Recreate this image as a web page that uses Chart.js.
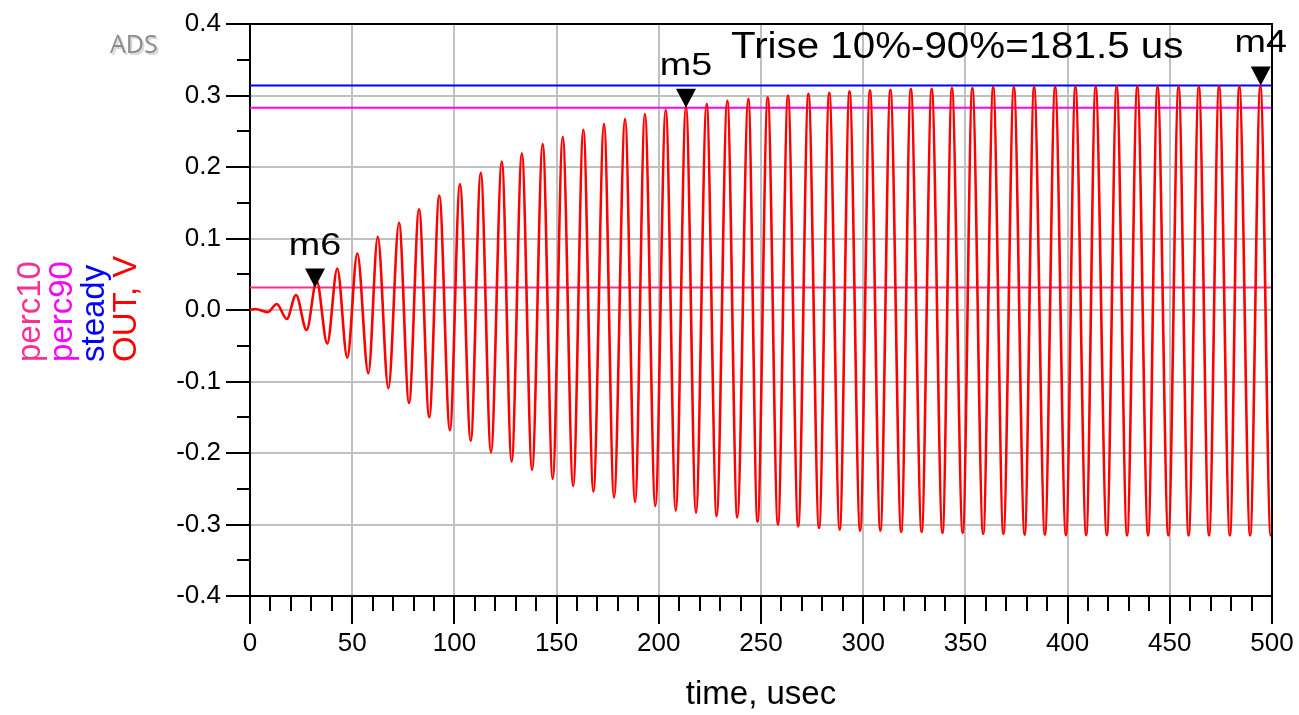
<!DOCTYPE html>
<html>
<head>
<meta charset="utf-8">
<script src="https://cdn.jsdelivr.net/npm/chart.js@4.4.1/dist/chart.umd.min.js"></script>
<style>
    html, body { margin: 0; padding: 0; background: #fff; }
</style>
</head>
<body>
<canvas id="chart" width="1299" height="715"></canvas>
<script>
const peakTimes = [2.4, 13.1, 22.5, 32.6, 42.7, 52.5, 62.5, 72.9, 82.7, 92.6,
    102.7, 112.9, 123.2, 133.0, 143.2, 153.0, 163.1, 173.2, 183.5, 193.2,
    203.4, 213.3, 223.4, 233.5, 243.8, 253.3, 263.2, 273.2, 283.4, 293.3,
    303.3, 313.3, 323.3, 333.5, 343.4, 353.4, 363.6, 373.7, 383.6, 393.9,
    403.8, 413.7, 424.0, 434.1, 444.0, 454.3, 464.2, 474.1, 484.0, 494.3];
const peakValues = [0.0014, 0.0084, 0.021, 0.041, 0.058, 0.079, 0.1025, 0.122, 0.141, 0.160,
    0.176, 0.192, 0.2075, 0.219, 0.232, 0.242, 0.252, 0.260, 0.267, 0.274,
    0.280, 0.285, 0.288, 0.2927, 0.2955, 0.2976, 0.300, 0.3024, 0.3038, 0.3057,
    0.3071, 0.3081, 0.3095, 0.3095, 0.3104, 0.3104, 0.3118, 0.3118, 0.312, 0.312,
    0.3122, 0.3122, 0.3124, 0.3124, 0.3125, 0.3126, 0.3126, 0.3127, 0.3128, 0.3128];
const troughTimes = [8.7, 18.0, 27.7, 37.8, 47.6, 57.9, 67.7, 77.8, 87.7, 97.8,
    108.0, 117.9, 128.0, 138.0, 148.1, 158.1, 168.0, 178.1, 188.4, 198.3,
    208.3, 218.2, 228.3, 238.4, 248.3, 258.3, 268.2, 278.4, 288.5, 298.5,
    308.4, 318.6, 328.6, 338.8, 348.7, 358.7, 368.6, 379.0, 388.9, 399.2,
    409.1, 419.2, 429.1, 439.4, 449.3, 459.2, 469.2, 479.4, 489.3, 499.4];
const troughValues = [-0.003, -0.0126, -0.028, -0.047, -0.0667, -0.0886, -0.1095, -0.130, -0.150, -0.168,
    -0.1832, -0.199, -0.212, -0.2238, -0.236, -0.246, -0.254, -0.262, -0.2685, -0.274,
    -0.2806, -0.2835, -0.288, -0.290, -0.2962, -0.300, -0.3024, -0.3048, -0.3071, -0.3085,
    -0.3085, -0.3103, -0.3103, -0.3118, -0.3118, -0.3132, -0.3132, -0.3142, -0.3142, -0.3151,
    -0.3151, -0.3151, -0.3152, -0.3152, -0.3152, -0.3153, -0.3153, -0.3153, -0.3153, -0.3153];
const traceStart = [0, 0];
const traceEnd = [500, -0.3145];

// horizontal reference levels
const steady = 0.3141;
const perc90 = 0.2827;
const perc10 = 0.0314;

// markers
const markerNames = ["m6", "m5", "m4"];
const markerTimes = [31.8, 213.3, 494.5];
const markerValues = [perc10, perc90, steady];

const triseText = "Trise 10%-90%=181.5 us";
const xTicks = { min: 0, max: 500, step: 50, minor: 10 };
const yTicks = { min: -0.4, max: 0.4, step: 0.1, minor: 0.05 };

const yTitles = ["perc10", "perc90", "steady", "OUT, V"];
const yTitleColors = ["#ff2f8f", "#ff00ff", "#0000ff", "#ff0000"];

const FONT = "Arial, 'Liberation Sans', sans-serif";

// build the trace: start, alternating extrema, end
const outPoints = [{ x: traceStart[0], y: traceStart[1] }];
for (let i = 0; i < peakTimes.length; i++) {
    outPoints.push({ x: peakTimes[i], y: peakValues[i] });
    if (i < troughTimes.length) outPoints.push({ x: troughTimes[i], y: troughValues[i] });
}
outPoints.push({ x: traceEnd[0], y: traceEnd[1] });

const level = (v) => [{ x: xTicks.min, y: v }, { x: xTicks.max, y: v }];

// minor ticks, frame, markers and the text ADS draws by hand
const decorations = {
    id: "decorations",
    afterDraw(chart) {
        const { ctx, chartArea: a, scales } = chart;
        const xs = scales.x, ys = scales.y;
        ctx.save();

        // minor ticks
        ctx.strokeStyle = "#000";
        ctx.lineWidth = 2;
        ctx.beginPath();
        for (let v = yTicks.min; v <= yTicks.max + 1e-9; v += yTicks.minor) {
            if (Math.abs(Math.round(v / yTicks.step) * yTicks.step - v) < 1e-6) continue;
            const py = Math.round(ys.getPixelForValue(v));
            ctx.moveTo(a.left - 13, py);
            ctx.lineTo(a.left, py);
        }
        for (let v = xTicks.min; v <= xTicks.max; v += xTicks.minor) {
            if (v % xTicks.step === 0) continue;
            const px = Math.round(xs.getPixelForValue(v));
            ctx.moveTo(px, a.bottom);
            ctx.lineTo(px, a.bottom + 15);
        }
        ctx.stroke();

        // frame top / right
        ctx.beginPath();
        ctx.moveTo(a.left, a.top);
        ctx.lineTo(a.right, a.top);
        ctx.lineTo(a.right, a.bottom);
        ctx.stroke();

        // markers
        ctx.fillStyle = "#000";
        ctx.textAlign = "center";
        ctx.textBaseline = "alphabetic";
        markerNames.forEach((name, i) => {
            const px = xs.getPixelForValue(markerTimes[i]);
            const py = ys.getPixelForValue(markerValues[i]);
            ctx.beginPath();
            ctx.moveTo(px, py);
            ctx.lineTo(px - 10, py - 19);
            ctx.lineTo(px + 10, py - 19);
            ctx.closePath();
            ctx.fill();
            ctx.save();
            ctx.translate(px, py - 33);
            ctx.scale(1.18, 1);
            ctx.font = "32px " + FONT;
            ctx.fillText(name, 0, 0);
            ctx.restore();
        });

        // Trise annotation
        ctx.save();
        ctx.translate(731, 58);
        ctx.scale(1.12, 1);
        ctx.textAlign = "left";
        ctx.font = "36px " + FONT;
        ctx.fillText(triseText, 0, 0);
        ctx.restore();

        // y titles, rotated, one colour per trace
        ctx.font = "33px " + FONT;
        ctx.textAlign = "left";
        ctx.textBaseline = "middle";
        yTitles.forEach((t, i) => {
            ctx.save();
            ctx.translate(31 + i * 32, 362);
            ctx.rotate(-Math.PI / 2);
            ctx.fillStyle = yTitleColors[i];
            ctx.fillText(t, 0, 0);
            ctx.restore();
        });

        // ADS logo
        ctx.font = "25px 'Open Sans', sans-serif";
        ctx.textAlign = "left";
        ctx.textBaseline = "alphabetic";
        ctx.fillStyle = "#d8d8d8";
        ctx.fillText("ADS", 112, 55);
        ctx.fillStyle = "#8a8a8a";
        ctx.fillText("ADS", 110, 53);

        ctx.restore();
    },
};

new Chart(document.getElementById("chart"), {
    type: "line",
    data: {
        datasets: [
            {
                label: "OUT",
                data: outPoints,
                borderColor: "#ff0000",
                borderWidth: 2.6,
                pointRadius: 0,
                cubicInterpolationMode: "monotone",
            },
            { label: "steady", data: level(steady), borderColor: "#0000ff", borderWidth: 2, pointRadius: 0 },
            { label: "perc90", data: level(perc90), borderColor: "#ff00ff", borderWidth: 2, pointRadius: 0 },
            { label: "perc10", data: level(perc10), borderColor: "#ff2f8f", borderWidth: 2, pointRadius: 0 },
        ],
    },
    options: {
        responsive: false,
        animation: false,
        layout: { padding: { top: 24, right: 27, left: 0, bottom: 0 } },
        plugins: { legend: { display: false }, tooltip: { enabled: false } },
        scales: {
            x: {
                type: "linear",
                min: xTicks.min,
                max: xTicks.max,
                afterFit: (s) => { s.height = 119; },
                ticks: {
                    stepSize: xTicks.step,
                    color: "#000",
                    font: { family: FONT, size: 26 },
                    padding: 4,
                    maxRotation: 0,
                    autoSkip: false,
                },
                grid: { color: "#c0c0c0", lineWidth: 2, tickLength: 28, tickColor: "#000", tickWidth: 2 },
                border: { color: "#000", width: 2 },
                title: {
                    display: true,
                    text: "time, usec",
                    color: "#000",
                    font: { family: FONT, size: 33 },
                    padding: { top: 0, bottom: 0 },
                },
            },
            y: {
                min: yTicks.min,
                max: yTicks.max,
                afterFit: (s) => { s.width = 250; },
                ticks: {
                    stepSize: yTicks.step,
                    color: "#000",
                    font: { family: FONT, size: 26 },
                    padding: 5,
                    callback: (v) => (Math.abs(v) < 1e-9 ? 0 : v).toFixed(1),
                },
                grid: { color: "#c0c0c0", lineWidth: 2, tickLength: 24, tickColor: "#000", tickWidth: 2 },
                border: { color: "#000", width: 2 },
            },
        },
    },
    plugins: [decorations],
});
</script>
</body>
</html>
